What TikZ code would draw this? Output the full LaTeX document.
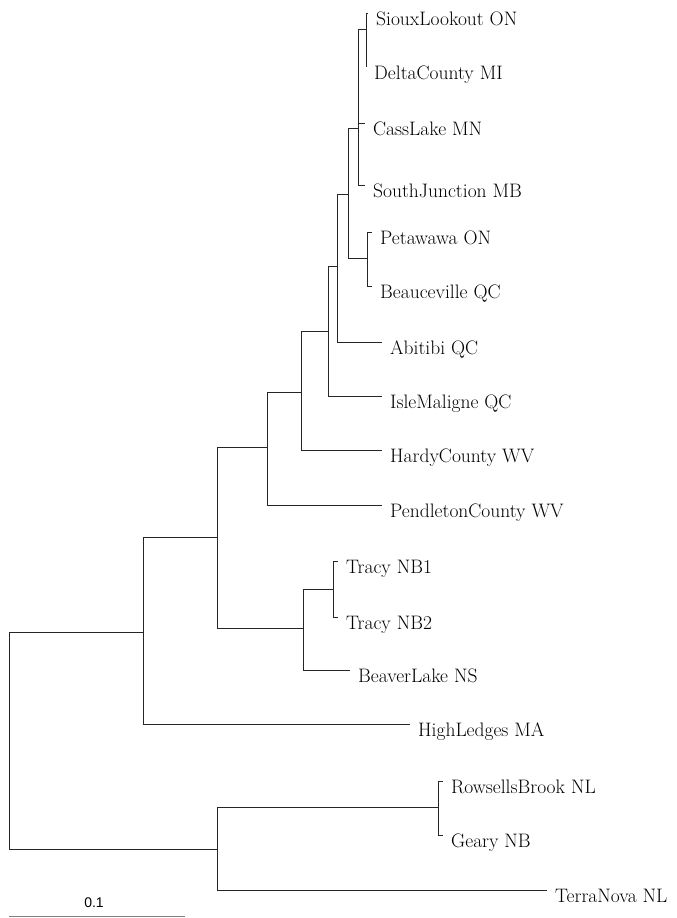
\documentclass[tikz,border=0pt]{standalone}
\usepackage{fontspec}
\newfontfamily\barfont{Liberation Sans}
\usepackage{tikz}

\begin{document}
\begin{tikzpicture}[x=1pt, y=-1pt,
 branch/.style={draw=black!85, line width=0.7pt},
 taxon/.style={anchor=base west, inner sep=0pt, xshift=8pt, yshift=-12pt,
   font=\fontsize{19.5}{21}\selectfont},
 scalelabel/.style={anchor=base, inner sep=0pt, font=\barfont\fontsize{14}{16}\selectfont}]
\useasboundingbox (0,0) rectangle (677,918);
% tips
\coordinate (sioux) at (368,13);
\coordinate (delta) at (366,67);
\coordinate (cass) at (365,123);
\coordinate (south) at (365,185);
\coordinate (petawawa) at (372,232);
\coordinate (beauce) at (372,286);
\coordinate (abitibi) at (382,342);
\coordinate (isle) at (382,396);
\coordinate (hardy) at (382,450);
\coordinate (pendleton) at (382,505);
\coordinate (tracya) at (338,561);
\coordinate (tracyb) at (338,617);
\coordinate (beaver) at (350,670);
\coordinate (ledges) at (410,724);
\coordinate (rowsells) at (443,781);
\coordinate (geary) at (443,835);
\coordinate (terra) at (547,890);
% internal nodes
\coordinate (n1) at (366,29);
\coordinate (n2) at (358,128);
\coordinate (n3) at (367,258);
\coordinate (n4) at (348,194);
\coordinate (n5) at (337,266);
\coordinate (n6) at (328,331);
\coordinate (n7) at (301,392);
\coordinate (n8) at (267,447);
\coordinate (n9) at (333,589);
\coordinate (n10) at (303,628);
\coordinate (n11) at (217,537);
\coordinate (n12) at (143,632);
\coordinate (n13) at (438,807);
\coordinate (n14) at (217,849);
\coordinate (root) at (9,740);
% branches
\foreach \p/\c in {n1/sioux, n1/delta, n2/n1, n2/cass, n2/south,
  n3/petawawa, n3/beauce, n4/n2, n4/n3, n5/n4, n5/abitibi,
  n6/n5, n6/isle, n7/n6, n7/hardy, n8/n7, n8/pendleton,
  n9/tracya, n9/tracyb, n10/n9, n10/beaver, n11/n8, n11/n10,
  n12/n11, n12/ledges, n13/rowsells, n13/geary, n14/n13, n14/terra,
  root/n12, root/n14}
  \draw[branch] (\p) |- (\c);
% labels
\node[taxon] (lsioux) at (sioux) {SiouxLookout ON};
\node[taxon] (ldelta) at (delta) {DeltaCounty MI};
\node[taxon] (lcass) at (cass) {CassLake MN};
\node[taxon] (lsouth) at (south) {SouthJunction MB};
\node[taxon] (lpetawawa) at (petawawa) {Petawawa ON};
\node[taxon] (lbeauce) at (beauce) {Beauceville QC};
\node[taxon] (labitibi) at (abitibi) {Abitibi QC};
\node[taxon] (lisle) at (isle) {IsleMaligne QC};
\node[taxon] (lhardy) at (hardy) {HardyCounty WV};
\node[taxon] (lpendleton) at (pendleton) {PendletonCounty WV};
\node[taxon] (ltracya) at (tracya) {Tracy NB1};
\node[taxon] (ltracyb) at (tracyb) {Tracy NB2};
\node[taxon] (lbeaver) at (beaver) {BeaverLake NS};
\node[taxon] (lledges) at (ledges) {HighLedges MA};
\node[taxon] (lrowsells) at (rowsells) {RowsellsBrook NL};
\node[taxon] (lgeary) at (geary) {Geary NB};
\node[taxon] (lterra) at (terra) {TerraNova NL};
% scale bar
\coordinate (bar0) at (9,916);
\coordinate (bar1) at (185,916);
\draw[gray, line width=0.8pt] (bar0) -- (bar1);
\node[scalelabel] (lbar) at (94,907) {0.1};
\end{tikzpicture}
\end{document}
